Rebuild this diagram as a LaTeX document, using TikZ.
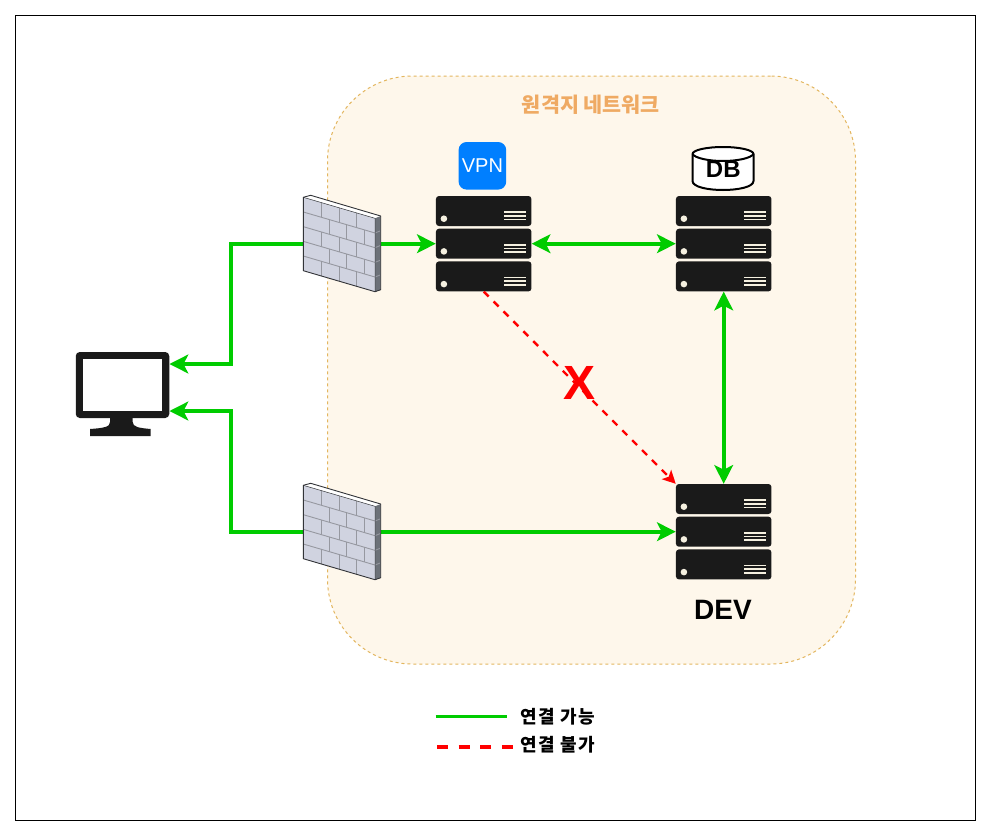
\documentclass[tikz,border=0pt]{standalone}
\usepackage{fontspec}
\setmainfont{Liberation Sans}
\newfontfamily\krfont{Noto Sans CJK KR}
\newfontfamily\krwide[LetterSpace=8]{Noto Sans CJK KR}
\usetikzlibrary{arrows.meta}

\definecolor{linkgreen}{HTML}{00CC00}
\definecolor{rackblack}{HTML}{1A1A1A}
\definecolor{rackmark}{HTML}{F5F0E0}
\definecolor{areafill}{HTML}{FEF7EB}
\definecolor{areadraw}{HTML}{E3B65F}
\definecolor{areatext}{HTML}{EFAA63}
\definecolor{vpnblue}{HTML}{007FFF}

% one rack unit, #2,#3 = centre
\newcommand{\rackunit}[3]{%
  \node[rackbox] (#1) at (#2,#3) {};
  \fill[rackmark] (#2-39.8,#3+7.7) circle (3.3pt);
  \foreach \dy in {-3.6,0,3.6}
    \draw[rackbar] (#2+20.5,#3+4.8+\dy) -- (#2+41.8,#3+4.8+\dy);
}
% three units, #1 = prefix, #2 = centre x, #3 = centre y of the middle unit
\newcommand{\rackstack}[3]{%
  \rackunit{#1a}{#2}{#3-32.7}
  \rackunit{#1b}{#2}{#3}
  \rackunit{#1c}{#2}{#3+32.7}
}
\newcommand{\firewall}[3]{%
  \begin{scope}[shift={(#2-38.7,#3-45.7)}, x={(71.7pt,-21pt)}, y={(0pt,-14.68pt)}]
    \fill[white] (0,0) -- (0.103,-0.284) -- (1.08,-0.27) -- (1,0) -- cycle;
    \fill[fwside] (1,0) -- (1.08,-0.27) -- (1.08,4.75) -- (1,5) -- cycle;
    \fill[fwface] (0,0) -- (1,0) -- (1,5) -- (0,5) -- cycle;
    \foreach \r in {1,2,3,4} \draw[fwmortar] (0,\r) -- (1,\r) -- (1.08,\r-0.27);
    \foreach \r in {0,2,4} \foreach \u in {0.256,0.5,0.744} \draw[fwmortar] (\u,\r) -- (\u,\r+1);
    \foreach \r in {1,3} \foreach \u in {0.36,0.6,0.85} \draw[fwmortar] (\u,\r) -- (\u,\r+1);
    \draw[fwline] (0,0) -- (0.103,-0.284) -- (1.08,-0.27) -- (1.08,4.75) -- (1,5) -- (0,5) -- cycle;
    \draw[fwline, line width=0.5pt] (0,0) -- (1,0) -- (1,5);
  \end{scope}
}

\begin{document}
\begin{tikzpicture}[x=1pt, y=-1pt]
\tikzstyle{framebox}=[rectangle, draw=black, line width=1pt, minimum width=960pt, minimum height=805pt, inner sep=0pt]
\tikzstyle{netarea}=[rectangle, draw=areadraw, fill=areafill, line width=1pt, dash pattern=on 3pt off 3pt, rounded corners=85pt, minimum width=528pt, minimum height=588pt, inner sep=0pt]
\tikzstyle{rackbox}=[rectangle, fill=rackblack, rounded corners=3pt, minimum width=95.5pt, minimum height=30pt, inner sep=0pt]
\tikzstyle{rackbar}=[draw=rackmark, line width=1.7pt]
\tikzstyle{fwbox}=[rectangle, minimum width=77.4pt, minimum height=97pt, inner sep=0pt]
\tikzstyle{fwface}=[fill={rgb,255:red,208;green,211;blue,224}]
\tikzstyle{fwside}=[fill={rgb,255:red,108;green,113;blue,120}]
\tikzstyle{fwmortar}=[draw={rgb,255:red,150;green,152;blue,160}, line width=0.9pt]
\tikzstyle{fwline}=[draw={rgb,255:red,50;green,52;blue,56}, line width=0.9pt, line join=round]
\tikzstyle{okstyle}=[draw=linkgreen, line width=3.6pt, -{Stealth[length=18.7pt, width=18.7pt, inset=4.6pt]}]
\tikzstyle{okboth}=[draw=linkgreen, line width=3.6pt, {Stealth[length=18.7pt, width=18.7pt, inset=4.6pt]}-{Stealth[length=18.7pt, width=18.7pt, inset=4.6pt]}]
\tikzstyle{nostyle}=[draw=red, line width=2.4pt, dash pattern=on 7pt off 7pt, -{Stealth[length=13pt, width=13pt, inset=3pt]}]
\tikzstyle{legendtext}=[anchor=west, inner sep=0pt, font=\krwide\bfseries\fontsize{18}{20}\selectfont]

\useasboundingbox (0,0) rectangle (992,833);
\node[framebox] (frame) at (495.5,418) {};
\node[netarea] (area) at (591.5,370) {};
\node[text=areatext, font=\krfont\bfseries\fontsize{20.7}{22}\selectfont] (areatitle) at (591,105) {원격지 네트워크};

% monitor
\node[rectangle, fill=rackblack, rounded corners=4pt, minimum width=93.5pt, minimum height=66pt, inner sep=0pt] (pc) at (122.5,385) {};
\node[rectangle, fill=white, minimum width=79pt, minimum height=52.3pt, inner sep=0pt] (pcscreen) at (122.2,385.2) {};
\fill[rackblack] (110,418) -- (110,422) .. controls (110,427) and (104,428) .. (90,429) -- (90,436) -- (150.7,436) -- (150.7,429) .. controls (139,428) and (132.7,427) .. (132.7,422) -- (132.7,418) -- cycle;

\rackstack{vpn}{483.7}{243.7}
\rackstack{db}{723.7}{243.7}
\rackstack{dev}{723.7}{531.7}

% links, firewalls go on top
\node[fwbox] (fwA) at (342,243.7) {};
\node[fwbox] (fwB) at (342,531.7) {};
\draw[okstyle] (fwA.west) -- ++(-72,0) |- ([yshift=21pt]pc.east);
\draw[okstyle] (fwB.west) -- ++(-72,0) |- ([yshift=-26pt]pc.east);
\draw[okstyle] (fwA.east) -- (vpnb.west);
\draw[okstyle] (fwB.east) -- (devb.west);
\draw[okboth] (vpnb.east) -- (dbb.west);
\draw[okboth] (dbc.south) -- (deva.north);
\draw[nostyle] (vpnc.south) -- (deva.north west);
\firewall{fwAshape}{342}{243}
\firewall{fwBshape}{342}{531}

\node[rectangle, fill=vpnblue, rounded corners=8pt, minimum size=47.6pt, inner sep=0pt, text=white, font=\fontsize{20}{22}\selectfont] (vpnlabel) at (482.4,165.8) {VPN};

% db cylinder
\draw[draw=black, fill=white, line width=2pt] (692.5,154) arc[start angle=180, end angle=0, x radius=30.5, y radius=-7] -- (753.5,181) .. controls (753.5,187) and (738,190) .. (723,190) .. controls (708,190) and (692.5,187) .. (692.5,181) -- cycle;
\draw[draw=black, line width=2pt] (692.5,154) .. controls (695,158) and (708,161) .. (723,161) .. controls (738,161) and (751,158) .. (753.5,154);
\node[font=\bfseries\fontsize{24}{26}\selectfont] (dblabel) at (723.3,169.5) {DB};
\node[font=\bfseries\fontsize{28}{30}\selectfont] (devlabel) at (723,610) {DEV};
\node[text=red, font=\bfseries\fontsize{48}{50}\selectfont] (xmark) at (579,383) {X};

% legend
\coordinate (okfrom) at (435.5,716.5);
\coordinate (okto) at (507,716.5);
\coordinate (nofrom) at (437,747);
\coordinate (noto) at (513.5,747);
\draw[draw=linkgreen, line width=3.6pt] (okfrom) -- (okto);
\draw[draw=red, line width=3.6pt, dash pattern=on 11pt off 10.6pt] (nofrom) -- (noto);
\node[legendtext] (oktext) at (520,717) {연결 가능};
\node[legendtext] (notext) at (520,745) {연결 불가};
\end{tikzpicture}
\end{document}
